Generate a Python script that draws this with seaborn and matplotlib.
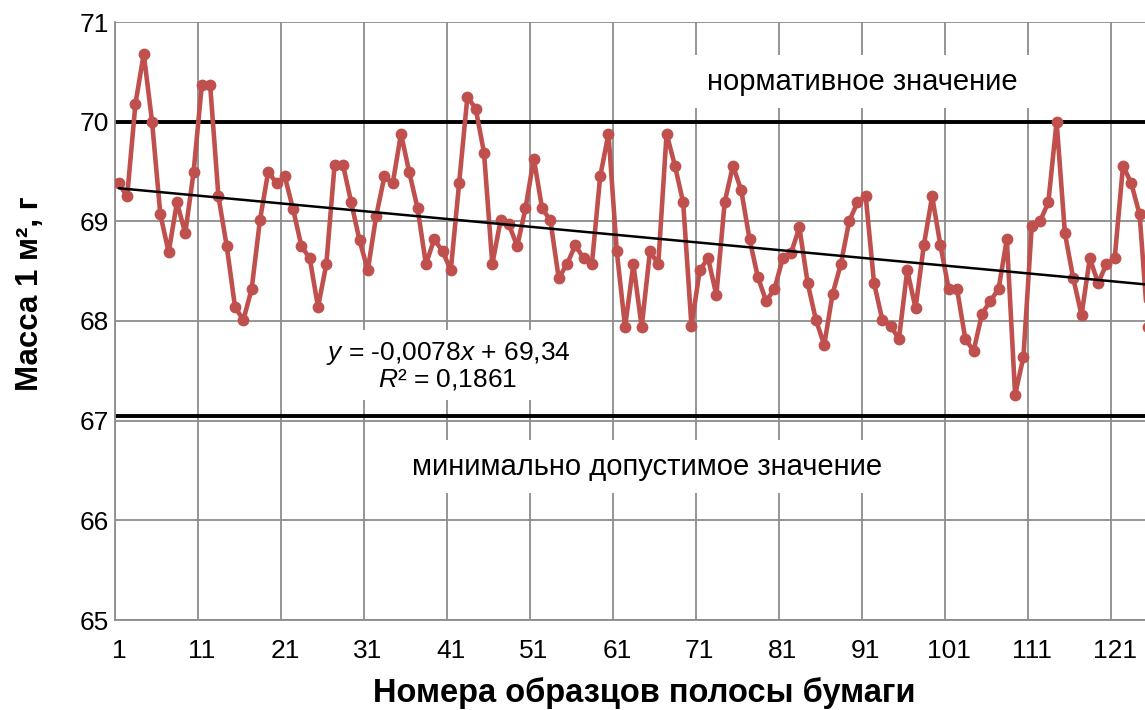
import numpy as np
import pandas as pd
import matplotlib
matplotlib.use("Agg")
import matplotlib.pyplot as plt
import seaborn as sns

# ---- data ----
mass = [69.38, 69.25, 70.18, 70.68, 70.00, 69.07, 68.69, 69.19, 68.88, 69.49,
        70.37, 70.37, 69.25, 68.75, 68.14, 68.01, 68.32, 69.01, 69.50, 69.38,
        69.45, 69.12, 68.75, 68.63, 68.14, 68.57, 69.57, 69.57, 69.19, 68.81,
        68.51, 69.05, 69.45, 69.38, 69.88, 69.49, 69.13, 68.57, 68.82, 68.70,
        68.51, 69.38, 70.25, 70.13, 69.69, 68.57, 69.01, 68.97, 68.75, 69.13,
        69.63, 69.13, 69.01, 68.43, 68.57, 68.76, 68.63, 68.57, 69.45, 69.88,
        68.70, 67.94, 68.57, 67.94, 68.70, 68.57, 69.88, 69.56, 69.19, 67.95,
        68.51, 68.63, 68.26, 69.19, 69.56, 69.31, 68.82, 68.44, 68.20, 68.32,
        68.63, 68.68, 68.94, 68.38, 68.01, 67.76, 68.27, 68.57, 69.00, 69.19,
        69.25, 68.38, 68.01, 67.95, 67.82, 68.51, 68.13, 68.76, 69.25, 68.76,
        68.32, 68.32, 67.82, 67.70, 68.07, 68.20, 68.32, 68.82, 67.26, 67.64,
        68.95, 69.00, 69.19, 70.00, 68.88, 68.43, 68.06, 68.63, 68.38, 68.57,
        68.63, 69.56, 69.38, 69.07, 67.94]
sample_no = list(range(1, len(mass) + 1))
x_ticks = list(range(1, 122, 10))
y_ticks = [65, 66, 67, 68, 69, 70, 71]
norm_value = 70.0
min_value = 67.05
trend_slope = -0.0078
trend_intercept = 69.34
trend_r2 = 0.1861

sns.set_theme(style="white")
plt.rcParams["font.family"] = ["Liberation Sans", "DejaVu Sans"]
plt.rcParams["mathtext.fontset"] = "custom"
plt.rcParams["mathtext.rm"] = "Liberation Sans"
plt.rcParams["mathtext.it"] = "Liberation Sans:italic"
plt.rcParams["text.color"] = "black"

fig = plt.figure(figsize=(11.45, 7.1), dpi=100)
ax = fig.add_axes([114.7 / 1145, (710 - 620) / 710, (1145 - 114.7) / 1145, (620 - 22) / 710])

df = pd.DataFrame({"n": sample_no, "m": mass})
red = "#C0504D"
sns.lineplot(data=df, x="n", y="m", ax=ax, color=red, linewidth=3.3,
             marker="o", markersize=8.5, markeredgewidth=0, zorder=3)

xlim = (0.5, 124.65)
xs = np.array([1, xlim[1] + 1])
ax.plot(xs, trend_slope * xs + trend_intercept, color="black", lw=1.8, zorder=4)

ax.axhline(norm_value, color="black", lw=2.8, zorder=2)
ax.axhline(min_value, color="black", lw=2.8, zorder=2)

ax.set_xlim(*xlim)
ax.set_ylim(65, 71)
ax.set_xticks(x_ticks)
ax.set_xticks(np.arange(0.5, 125, 10), minor=True)
ax.set_yticks(y_ticks)
grid_c = "#8C8C8C"
ax.grid(False)
ax.grid(which="minor", axis="x", color=grid_c, lw=1.3, zorder=0)
ax.grid(which="major", axis="y", color=grid_c, lw=1.3, zorder=0)
ax.tick_params(axis="both", which="both", length=0, labelsize=19, colors="black")
ax.tick_params(axis="x", pad=14)
ax.tick_params(axis="y", pad=4)
for s in ["top", "right"]:
    ax.spines[s].set_visible(False)
for s in ["left", "bottom"]:
    ax.spines[s].set_color(grid_c)
    ax.spines[s].set_linewidth(1.3)
ax.set_xlabel("")
ax.set_ylabel("")

box = dict(facecolor="white", edgecolor="none", pad=9)
ax.text(90.55, 70.40, "нормативное значение", ha="center", va="center",
        fontsize=21, bbox=box, zorder=5)
ax.text(64.6, 66.54, "минимально допустимое значение", ha="center", va="center",
        fontsize=21, bbox=box, zorder=5)
eq = ("$\\it{y}$ = " + f"{trend_slope:.4f}".replace(".", ",") + "$\\it{x}$ + "
      + f"{trend_intercept:.2f}".replace(".", ",") + "\n"
      + "$\\it{R}$² = " + f"{trend_r2:.4f}".replace(".", ","))
ax.text(40.65, 67.55, eq, ha="center", va="center", fontsize=19,
        linespacing=1.0, bbox=dict(facecolor="white", edgecolor="none", pad=6), zorder=5)

fig.text(30 / 1145, 1 - 294 / 710, "Масса 1 м², г", rotation=90, ha="center",
         va="center", fontsize=22.5, fontweight="bold")
fig.text(644 / 1145, 1 - 693 / 710, "Номера образцов полосы бумаги", ha="center",
         va="center", fontsize=23.5, fontweight="bold")

fig.savefig("out.png", dpi=100)
